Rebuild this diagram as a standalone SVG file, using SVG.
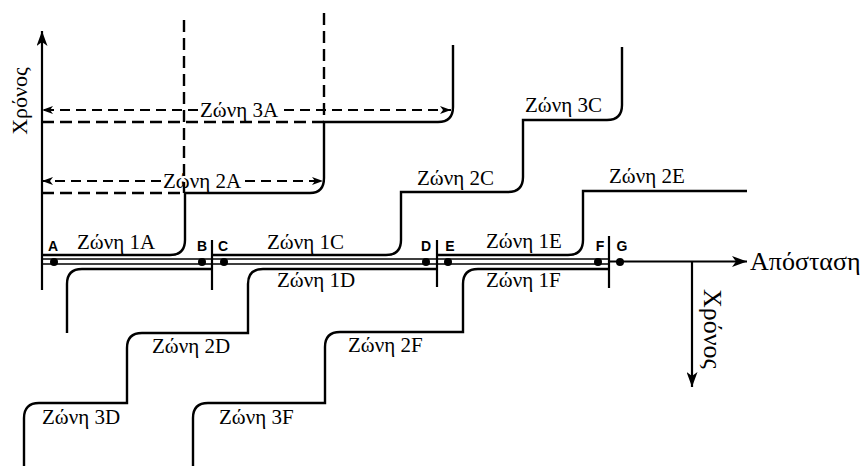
<svg xmlns="http://www.w3.org/2000/svg" width="865" height="466" viewBox="0 0 865 466">
<defs>
<marker id="ah" viewBox="0 0 11 8" refX="11" refY="4" markerWidth="11" markerHeight="8" markerUnits="userSpaceOnUse" orient="auto"><path d="M0,0 L11,4 L0,8 L3,4 z" fill="#000"/></marker>
<marker id="axh" viewBox="0 0 15 11" refX="15" refY="5.5" markerWidth="15" markerHeight="11" markerUnits="userSpaceOnUse" orient="auto"><path d="M0,0 L15,5.5 L0,11 L4,5.5 z" fill="#000"/></marker>
</defs>
<style>
.st{fill:none;stroke:#000;stroke-width:2.4}
.dash{fill:none;stroke:#000;stroke-width:2.4;stroke-dasharray:12 6}
.dar{fill:none;stroke:#000;stroke-width:1.8;stroke-dasharray:10 6}
.ax{fill:none;stroke:#000;stroke-width:2.2}
.rail{fill:none;stroke:#000;stroke-width:1.6}
.lbl{font-family:"Liberation Serif","Times New Roman",serif;font-size:21px;fill:#000}
.big{font-family:"Liberation Serif","Times New Roman",serif;font-size:26px;fill:#000}
.pt{font-family:"Liberation Sans",Arial,sans-serif;font-weight:bold;font-size:14px;text-anchor:middle;fill:#000}
</style>
<g id="connectors">
<g id="axes">
<path class="ax" d="M42,290 V31" marker-end="url(#axh)"/>
<path class="rail" d="M42,259 H609 M42,264 H609"/>
<path class="ax" d="M609,261.5 H747" marker-end="url(#axh)"/>
<path class="ax" d="M692,261.5 V387" marker-end="url(#axh)"/>
<path class="ax" d="M212,240 V290 M437,240 V287 M609,236 V288"/>
</g>
<g id="extensions">
<path class="dash" d="M184,20 V193 M324,13 V122 M42,193 H184 M42,122 H324"/>
<path class="dar" d="M198,110 H42" marker-end="url(#ah)"/>
<path class="dar" d="M284,110 H451" marker-end="url(#ah)"/>
<path class="dar" d="M161,181 H42" marker-end="url(#ah)"/>
<path class="dar" d="M245,181 H323" marker-end="url(#ah)"/>
</g>
<g id="zones-upper">
<path class="st" d="M42,255 H170 Q185,255 185,240 V193 H310 Q324,193 324,178 V122 H438 Q453,122 453,107 V45"/>
<path class="st" d="M212,255 H386 Q401,255 401,240 V192 H508 Q523,192 523,177 V120 H607 Q622,120 622,105 V47"/>
<path class="st" d="M437,255 H568 Q583,255 583,240 V191 H747"/>
</g>
<g id="zones-lower">
<path class="st" d="M212,269 H82 Q67,269 67,284 V333"/>
<path class="st" d="M437,269 H263 Q248,269 248,284 V333 H142 Q127,333 127,348 V403 H39 Q24,403 24,418 V466"/>
<path class="st" d="M609,269 H478 Q463,269 463,284 V332 H340 Q325,332 325,347 V403 H208 Q193,403 193,418 V466"/>
</g>
</g>
<g id="points">
<g id="pA"><circle cx="54" cy="262" r="4"/><text class="pt" x="53" y="251">A</text></g>
<g id="pB"><circle cx="202" cy="262" r="4"/><text class="pt" x="202" y="251">B</text></g>
<g id="pC"><circle cx="224" cy="262" r="4"/><text class="pt" x="223" y="251">C</text></g>
<g id="pD"><circle cx="426" cy="262" r="4"/><text class="pt" x="426" y="251">D</text></g>
<g id="pE"><circle cx="448" cy="262" r="4"/><text class="pt" x="450" y="251">E</text></g>
<g id="pF"><circle cx="598" cy="262" r="4"/><text class="pt" x="600" y="251">F</text></g>
<g id="pG"><circle cx="620" cy="262" r="4"/><text class="pt" x="622" y="251">G</text></g>
</g>
<g id="labels">
<text class="lbl" x="200" y="117">Ζώνη 3A</text>
<text class="lbl" x="163" y="188">Ζώνη 2A</text>
<text class="lbl" x="77" y="249">Ζώνη 1A</text>
<text class="lbl" x="267" y="249">Ζώνη 1C</text>
<text class="lbl" x="486" y="248">Ζώνη 1E</text>
<text class="lbl" x="277" y="287">Ζώνη 1D</text>
<text class="lbl" x="486" y="287">Ζώνη 1F</text>
<text class="lbl" x="417" y="185">Ζώνη 2C</text>
<text class="lbl" x="525" y="112">Ζώνη 3C</text>
<text class="lbl" x="609" y="183">Ζώνη 2E</text>
<text class="lbl" x="152" y="353">Ζώνη 2D</text>
<text class="lbl" x="348" y="352">Ζώνη 2F</text>
<text class="lbl" x="42" y="424">Ζώνη 3D</text>
<text class="lbl" x="219" y="424">Ζώνη 3F</text>
<text class="big" x="750" y="270">Απόσταση</text>
<text class="big" style="font-size:22px" text-anchor="middle" transform="translate(27,101) rotate(-90)">Χρόνος</text>
<text class="big" text-anchor="middle" transform="translate(704,329) rotate(90)">Χρόνος</text>
</g>
</svg>
